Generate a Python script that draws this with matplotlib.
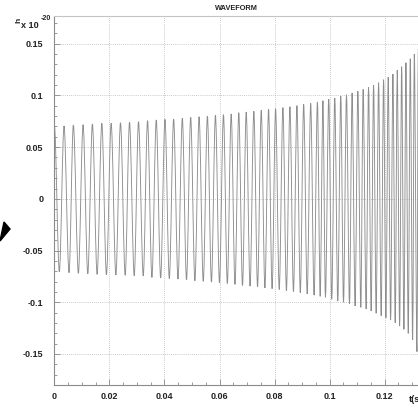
import matplotlib
matplotlib.use("Agg")
import matplotlib.pyplot as plt
from matplotlib.path import Path
from matplotlib.patches import PathPatch, Polygon
from matplotlib.ticker import MultipleLocator, FuncFormatter

plt.rcParams["font.family"] = ["Liberation Sans", "DejaVu Sans"]
plt.rcParams["axes.unicode_minus"] = False

# Strain h (units of 1e-20): crest and trough times (s) and heights
crest_t = [0.0, 0.00350, 0.00689, 0.01042, 0.01381, 0.01723, 0.02062, 0.02401,
           0.02729, 0.03056, 0.03384, 0.03701, 0.04018, 0.04332, 0.04648, 0.04951,
           0.05257, 0.05559, 0.05851, 0.06142, 0.06423, 0.06699, 0.06969, 0.07246,
           0.07515, 0.07781, 0.08036, 0.08302, 0.08557, 0.08812, 0.09056, 0.09311,
           0.09556, 0.09756, 0.09967, 0.10186, 0.10404, 0.10612, 0.10816, 0.11024,
           0.11217, 0.11413, 0.11596, 0.11778, 0.11960, 0.12128, 0.12299, 0.12455,
           0.12616, 0.12772, 0.12929, 0.13075, 0.13220]
crest_h = [0.0705, 0.0705, 0.0714, 0.0717, 0.0724, 0.0731, 0.0731, 0.0736,
           0.0740, 0.0746, 0.0756, 0.0763, 0.0769, 0.0772, 0.0779, 0.0789,
           0.0794, 0.0801, 0.0808, 0.0814, 0.0821, 0.0833, 0.0840, 0.0847,
           0.0856, 0.0866, 0.0872, 0.0882, 0.0891, 0.0901, 0.0914, 0.0924,
           0.0937, 0.0949, 0.0963, 0.0975, 0.0992, 0.1007, 0.1024, 0.1040,
           0.1059, 0.1079, 0.1101, 0.1123, 0.1152, 0.1178, 0.1207, 0.1243,
           0.1278, 0.1317, 0.1355, 0.1401, 0.1449]

trough_t = [0.00179, 0.00532, 0.00871, 0.01213, 0.01552, 0.01891, 0.02233, 0.02572,
            0.02900, 0.03228, 0.03543, 0.03860, 0.04175, 0.04490, 0.04800, 0.05104,
            0.05408, 0.05705, 0.05997, 0.06283, 0.06561, 0.06834, 0.07108, 0.07381,
            0.07648, 0.07909, 0.08169, 0.08430, 0.08685, 0.08934, 0.09184, 0.09434,
            0.09656, 0.09847, 0.10076, 0.10295, 0.10503, 0.10721, 0.10925, 0.11133,
            0.11326, 0.11508, 0.11690, 0.11872, 0.12044, 0.12215, 0.12383, 0.12543,
            0.12699, 0.12856, 0.13016, 0.13173]
trough_h = [-0.0705, -0.0714, -0.0720, -0.0724, -0.0730, -0.0733, -0.0736, -0.0739,
            -0.0743, -0.0746, -0.0760, -0.0766, -0.0771, -0.0776, -0.0784, -0.0792,
            -0.0798, -0.0805, -0.0811, -0.0818, -0.0827, -0.0837, -0.0844, -0.0852,
            -0.0861, -0.0869, -0.0877, -0.0887, -0.0896, -0.0908, -0.0919, -0.0931,
            -0.0943, -0.0952, -0.0971, -0.0988, -0.1000, -0.1017, -0.1036, -0.1049,
            -0.1065, -0.1085, -0.1107, -0.1130, -0.1150, -0.1172, -0.1198, -0.1230,
            -0.1262, -0.1301, -0.1365, -0.1478]

x_ticks = [0, 0.02, 0.04, 0.06, 0.08, 0.1, 0.12]
y_ticks = [-0.15, -0.1, -0.05, 0, 0.05, 0.1, 0.15]

W, H = 418, 409
fig = plt.figure(figsize=(W / 100, H / 100), dpi=100)
ax_left, ax_top, ax_bottom = 54.4, 16, 385
ax = fig.add_axes([ax_left / W, 1 - ax_bottom / H, 1 - ax_left / W, (ax_bottom - ax_top) / H])

# Smooth waveform through alternating extrema (flat tangents at each extremum)
ext = sorted(zip(crest_t + trough_t, crest_h + trough_h))
verts = [ext[0]]
codes = [Path.MOVETO]
for (t0, h0), (t1, h1) in zip(ext[:-1], ext[1:]):
    dt = t1 - t0
    verts += [(t0 + dt / 3, h0), (t1 - dt / 3, h1), (t1, h1)]
    codes += [Path.CURVE4] * 3
ax.add_patch(PathPatch(Path(verts, codes), fill=False, edgecolor="#8e8e8e",
                       lw=0.65, transform=ax.transData, zorder=3))

ax.set_xlim(0, 0.1321)
ax.set_ylim(-0.180, 0.1768)
ax.set_xticks(x_ticks)
ax.set_yticks(y_ticks)
ax.xaxis.set_minor_locator(MultipleLocator(0.005))
ax.yaxis.set_minor_locator(MultipleLocator(0.01))
fmt = FuncFormatter(lambda v, p: "%g" % round(v, 4))
ax.xaxis.set_major_formatter(fmt)
ax.yaxis.set_major_formatter(fmt)

ax.grid(True, which="major", linestyle=(0, (1, 1.5)), color="#b8b8b8", lw=0.6)
ax.tick_params(which="both", direction="in", colors="#8a8a8a", width=0.6,
               labelcolor="#222222", labelsize=6.5, top=False, right=False)
ax.tick_params(which="major", length=4)
ax.tick_params(which="minor", length=2.5)
ax.tick_params(axis="y", pad=8)
ax.tick_params(axis="x", pad=5)
for lab in ax.get_xticklabels() + ax.get_yticklabels():
    lab.set_fontweight("bold")

ax.spines["right"].set_visible(False)
ax.spines["left"].set_color("#8a8a8a")
ax.spines["bottom"].set_color("#8a8a8a")
ax.spines["top"].set_color("#c4c4c4")
for s in ("left", "bottom", "top"):
    ax.spines[s].set_linewidth(0.8)

ax.set_title("WAVEFORM", fontsize=5.3, fontweight="bold", color="#222222", pad=4)

# Axis annotations
fig.text(18.5 / W, 1 - 20 / H, "h", rotation=90, fontsize=6, fontweight="bold",
         color="#222222", ha="center", va="center")
fig.text(21 / W, 1 - 26 / H, "x 10", fontsize=6.5, fontweight="bold",
         color="#222222", ha="left", va="center")
fig.text(41 / W, 1 - 19 / H, "-20", fontsize=5, fontweight="bold",
         color="#222222", ha="left", va="center")
fig.text(409 / W, 1 - 400 / H, "t(s)", fontsize=6.5, fontweight="bold",
         color="#222222", ha="left", va="center")

# Pointer marker on the left edge
tri = [(0, 241), (4, 222), (10, 229)]
fig.patches.append(Polygon([(x / W, 1 - y / H) for x, y in tri], closed=True,
                           facecolor="black", edgecolor="black",
                           transform=fig.transFigure, figure=fig))

fig.savefig("out.png", dpi=100)
